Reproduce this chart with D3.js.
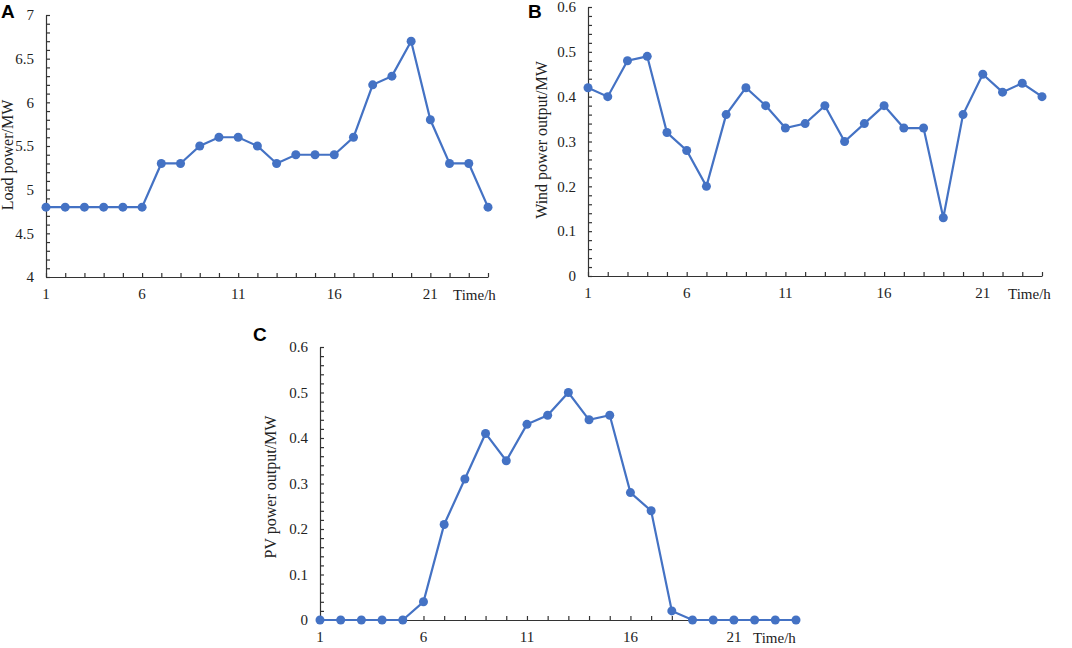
<!DOCTYPE html>
<html>
<head>
<meta charset="utf-8">
<script src="https://cdn.jsdelivr.net/npm/d3@7"></script>
<style>
  body { margin: 0; background: #fff; }
  svg { display: block; }
  text { font-family: "Liberation Serif", "Times New Roman", serif; fill: #222; }
  .panel-tag { font-family: "Liberation Sans", Arial, sans-serif; font-weight: bold; fill: #000; }
</style>
</head>
<body>
<svg width="1072" height="648"></svg>
<script>
// hours 1..24
const hours = d3.range(1, 25);
const hourLabels = [1, 6, 11, 16, 21];

// load power (MW)
const loadPower = [4.8, 4.8, 4.8, 4.8, 4.8, 4.8, 5.3, 5.3, 5.5, 5.6, 5.6, 5.5,
                   5.3, 5.4, 5.4, 5.4, 5.6, 6.2, 6.3, 6.7, 5.8, 5.3, 5.3, 4.8];
// wind power output (MW)
const windPower = [0.42, 0.40, 0.48, 0.49, 0.32, 0.28, 0.20, 0.36, 0.42, 0.38, 0.33, 0.34,
                   0.38, 0.30, 0.34, 0.38, 0.33, 0.33, 0.13, 0.36, 0.45, 0.41, 0.43, 0.40];
// PV power output (MW)
const pvPower = [0, 0, 0, 0, 0, 0.04, 0.21, 0.31, 0.41, 0.35, 0.43, 0.45,
                 0.50, 0.44, 0.45, 0.28, 0.24, 0.02, 0, 0, 0, 0, 0, 0];

const loadTicks = [4, 4.5, 5, 5.5, 6, 6.5, 7];
const windTicks = [0, 0.1, 0.2, 0.3, 0.4, 0.5, 0.6];
const pvTicks = [0, 0.1, 0.2, 0.3, 0.4, 0.5, 0.6];

const blue = '#4472c4';
const axisColor = '#333';

const svg = d3.select('svg');

function drawPanel(opt) {
    const g = svg.append('g');

    const x = d3.scaleLinear().domain([1, 24]).range([opt.left, opt.right]);
    const y = d3.scaleLinear().domain(opt.yDomain).range([opt.bottom, opt.top]);

    // y axis: minor ticks, inner
    const yMinor = d3.range(opt.yDomain[0], opt.yDomain[1] + opt.minor / 2, opt.minor);
    const yAxis = g.append('g')
        .attr('transform', `translate(${opt.left},0)`)
        .call(d3.axisRight(y).tickValues(yMinor).tickSize(4).tickFormat('').tickSizeOuter(0));
    yAxis.selectAll('line, path').attr('stroke', axisColor).attr('stroke-width', 1.2);

    g.selectAll('.ylab')
        .data(opt.yTicks)
        .enter()
        .append('text')
        .attr('x', opt.left - 12)
        .attr('y', d => y(d))
        .attr('dy', '0.35em')
        .attr('text-anchor', 'end')
        .style('font-size', '15px')
        .text(d => d);

    // x axis
    const xAxis = g.append('g')
        .attr('transform', `translate(0,${opt.bottom})`)
        .call(d3.axisTop(x).tickValues(hours).tickSize(4).tickFormat('').tickSizeOuter(0));
    xAxis.selectAll('line, path').attr('stroke', axisColor).attr('stroke-width', 1.2);

    g.selectAll('.xlab')
        .data(hourLabels)
        .enter()
        .append('text')
        .attr('x', d => x(d))
        .attr('y', opt.bottom + 22)
        .attr('text-anchor', 'middle')
        .style('font-size', '15px')
        .text(d => d);

    g.append('text')
        .attr('x', opt.timeX)
        .attr('y', opt.bottom + 23)
        .style('font-size', '15px')
        .text('Time/h');

    // y title
    g.append('text')
        .attr('transform', `translate(${opt.titleX},${opt.titleY}) rotate(-90)`)
        .attr('text-anchor', 'middle')
        .style('font-size', '16px')
        .text(opt.title);

    // panel letter
    g.append('text')
        .attr('class', 'panel-tag')
        .attr('x', opt.tagX)
        .attr('y', opt.tagY)
        .style('font-size', '19px')
        .text(opt.tag);

    // line + markers
    const line = d3.line().x((d, i) => x(hours[i])).y(d => y(d));
    g.append('path')
        .datum(opt.values)
        .attr('d', line)
        .attr('fill', 'none')
        .attr('stroke', blue)
        .attr('stroke-width', 2.2);

    g.selectAll('circle')
        .data(opt.values)
        .enter()
        .append('circle')
        .attr('cx', (d, i) => x(hours[i]))
        .attr('cy', d => y(d))
        .attr('r', 4.5)
        .attr('fill', blue);
}

drawPanel({
    tag: 'A', tagX: 1, tagY: 18,
    left: 46, right: 488, top: 15, bottom: 277,
    yDomain: [4, 7], minor: 0.1, yTicks: loadTicks,
    values: loadPower,
    title: 'Load power/MW', titleX: 13, titleY: 155,
    timeX: 453
});

drawPanel({
    tag: 'B', tagX: 528, tagY: 18,
    left: 588, right: 1042, top: 7, bottom: 276,
    yDomain: [0, 0.6], minor: 0.02, yTicks: windTicks,
    values: windPower,
    title: 'Wind power output/MW', titleX: 547, titleY: 140,
    timeX: 1008
});

drawPanel({
    tag: 'C', tagX: 253, tagY: 341,
    left: 320, right: 796, top: 347, bottom: 620,
    yDomain: [0, 0.6], minor: 0.02, yTicks: pvTicks,
    values: pvPower,
    title: 'PV power output/MW', titleX: 276, titleY: 487,
    timeX: 753
});
</script>
</body>
</html>
